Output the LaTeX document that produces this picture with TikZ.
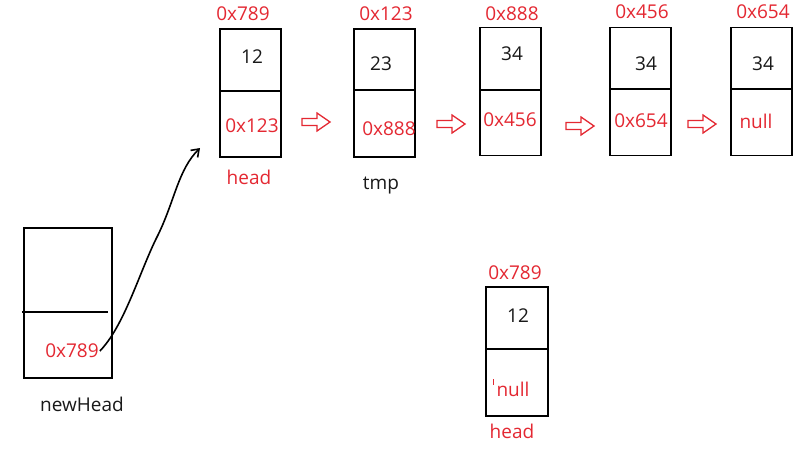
\documentclass[tikz,border=0pt]{standalone}
\usepackage{fontspec}
\setmainfont{Open Sans}
\usetikzlibrary{arrows.meta}
\definecolor{addr}{RGB}{228,40,50}
\tikzset{
  cell/.style={draw=black, line width=1.5pt, minimum width=61pt, minimum height=128pt, inner sep=0pt},
  txt/.style={font=\fontsize{19}{19}\selectfont, inner sep=0pt, text=black!90},
  red/.style={txt, text=addr},
  divider/.style={line width=1.5pt},
  hollow/.style={draw=addr, line width=1.3pt, fill=white},
}
\newcommand{\harrow}[2]{% x, y
  \draw[hollow] (#1,#2-3.5) -- ++(15,0) -- ++(0,-5.5) -- ++(13,9) -- ++(-13,9) -- ++(0,-5.5) -- ++(-15,0) -- cycle;
}
\begin{document}
\begin{tikzpicture}[x=1pt,y=-1pt]
\useasboundingbox (0,0) rectangle (807,448);
\fill[white] (0,0) rectangle (807,448);

% box 1
\node[cell] (b1) at (250.5,93) {};
\draw[divider] (b1.west|-0,91) -- (b1.east|-0,91);
\node[red] (a1) at (243,14) {0x789};
\node[txt] (v1) at (252,57) {12};
\node[red] (n1) at (252,126) {0x123};
\node[red] (h1) at (249,177) {head};

% box 2
\node[cell] (b2) at (384.5,93) {};
\draw[divider] (b2.west|-0,90) -- (b2.east|-0,90);
\node[red] (a2) at (386,14) {0x123};
\node[txt] (v2) at (381,64) {23};
\node[red] (n2) at (389,129) {0x888};
\node[txt] (t2) at (381,186) {tmp};

% box 3
\node[cell] (b3) at (510.5,91.5) {};
\draw[divider] (b3.west|-0,90) -- (b3.east|-0,90);
\node[red] (a3) at (512,14) {0x888};
\node[txt] (v3) at (512,54) {34};
\node[red] (n3) at (510,120) {0x456};

% box 4
\node[cell] (b4) at (640.5,91.5) {};
\draw[divider] (b4.west|-0,89) -- (b4.east|-0,89);
\node[red] (a4) at (642,12) {0x456};
\node[txt] (v4) at (646,64) {34};
\node[red] (n4) at (641,121) {0x654};

% box 5
\node[cell] (b5) at (761.5,91.5) {};
\draw[divider] (b5.west|-0,89) -- (b5.east|-0,89);
\node[red] (a5) at (763,12) {0x654};
\node[txt] (v5) at (763,64) {34};
\node[red] (n5) at (756,121) {null};

% hollow arrows
\harrow{302}{122}
\harrow{437}{124}
\harrow{566}{126}
\harrow{688}{124}

% newHead box
\node[cell, minimum width=88pt, minimum height=150pt] (nb) at (68,303) {};
\draw[divider] (22,312) -- (108,312);
\node[red] (na) at (72,351) {0x789};
\node[txt] (nh) at (82,404) {newHead};
\coordinate (tip) at (200,148);
\draw[line width=1.6pt, -{Straight Barb[length=7pt,width=10pt]}]
  ([xshift=1pt]na.east) .. controls (125,325) and (140,270) .. (158,235)
  .. controls (175,200) and (178,170) .. (tip);

% bottom box
\node[cell, minimum width=62pt, minimum height=129pt] (bb) at (517,351.5) {};
\draw[divider] (bb.west|-0,349) -- (bb.east|-0,349);
\node[red] (ba) at (515,273) {0x789};
\node[txt] (bv) at (518,316) {12};
\node[red] (bn) at (513,389) {null};
\draw[addr, line width=0.8pt] (493.5,379) -- (493.5,385);
\node[red] (bh) at (512,431) {head};
\end{tikzpicture}
\end{document}
